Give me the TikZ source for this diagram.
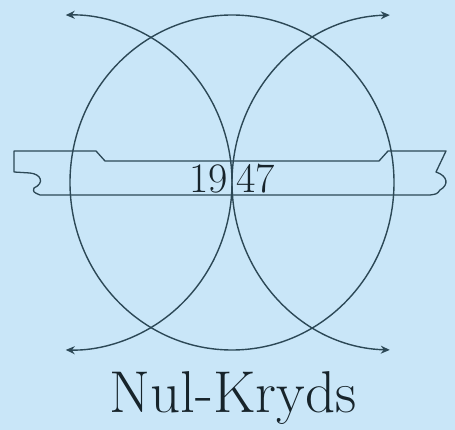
\documentclass[tikz,border=0pt]{standalone}
\usepackage{tikz}
\usetikzlibrary{arrows.meta}
\definecolor{nbg}{HTML}{C9E6F8}
\definecolor{nline}{HTML}{2C4856}
\definecolor{ntext}{HTML}{17242B}
\tikzset{
  lobe/.style={draw=nline, line width=1.4pt},
  swing/.style={lobe, -{Stealth[length=9pt, width=8pt]}},
  plank/.style={draw=nline, line width=1.3pt, line join=round},
  yeartext/.style={text=ntext, font=\fontsize{42}{42}\selectfont, inner sep=0pt},
  titletext/.style={text=ntext, font=\fontsize{59}{59}\selectfont, inner sep=0pt},
}
\begin{document}
\begin{tikzpicture}[x=1pt, y=-1pt]
  \fill[nbg] (0,0) rectangle (455,430);
  \useasboundingbox (0,0) rectangle (455,430);
  \coordinate (mid) at (232,182.5);
  % board across the middle
  \draw[plank] (14,151) -- (96,151) -- (105,161) -- (379,161) -- (388,151) -- (446,151)
    -- (436,172) .. controls (448,176) and (449,185) .. (440,190)
    .. controls (437,194) .. (430,195) -- (40,195)
    .. controls (33,192) .. (34,188) .. controls (45,183) and (41,174) .. (30,173)
    -- (14,172) -- cycle;
  \node[yeartext, anchor=base east] (yearl) at (228,193) {19};
  \node[yeartext, anchor=base west] (yearr) at (236,193) {47};
  % rings and swings
  \draw[lobe] (mid) ellipse [x radius=162, y radius=167.5];
  \draw[swing] (mid) arc[start angle=0, end angle=-91.5, x radius=162, y radius=167.5];
  \draw[swing] (mid) arc[start angle=0, end angle=91.5, x radius=162, y radius=167.5];
  \draw[swing] (mid) arc[start angle=180, end angle=268.5, x radius=162, y radius=167.5];
  \draw[swing] (mid) arc[start angle=180, end angle=91.5, x radius=162, y radius=167.5];
  \node[titletext, anchor=base] (title) at (233,412) {Nul-Kryds};
\end{tikzpicture}
\end{document}
